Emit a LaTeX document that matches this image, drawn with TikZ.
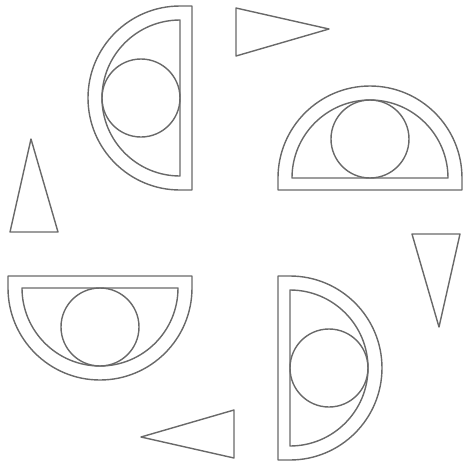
\documentclass[tikz,border=0pt]{standalone}
\begin{document}
\begin{tikzpicture}[x=0.01cm,y=-0.01cm,
  shape line/.style={draw={rgb,255:red,105;green,105;blue,105},line width=0.4pt,line join=round}]
\useasboundingbox (0,0) rectangle (463,463);
% A: arc facing left
\draw[shape line] (192,6) -- (180,6) arc[start angle=-90,end angle=-270,radius=92] -- (192,190) -- cycle;
\draw[shape line] (180,20) arc[start angle=-90,end angle=-270,radius=78] -- cycle;
\draw[shape line] (141,98) circle[radius=39];
% B: arc facing up
\draw[shape line] (462,190) -- (462,178) arc[start angle=0,end angle=-180,radius=92] -- (278,190) -- cycle;
\draw[shape line] (448,178) arc[start angle=0,end angle=-180,radius=78] -- cycle;
\draw[shape line] (370,139) circle[radius=39];
% C: arc facing down
\draw[shape line] (8,276) -- (8,288) arc[start angle=180,end angle=0,radius=92] -- (192,276) -- cycle;
\draw[shape line] (22,288) arc[start angle=180,end angle=0,radius=78] -- cycle;
\draw[shape line] (100,327) circle[radius=39];
% D: arc facing right
\draw[shape line] (278,460) -- (290,460) arc[start angle=90,end angle=-90,radius=92] -- (278,276) -- cycle;
\draw[shape line] (290,446) arc[start angle=90,end angle=-90,radius=78] -- cycle;
\draw[shape line] (329,368) circle[radius=39];
% triangles
\draw[shape line] (236,8) -- (236,56) -- (329,29) -- cycle;
\draw[shape line] (460,234) -- (412,234) -- (439,327) -- cycle;
\draw[shape line] (234,458) -- (234,410) -- (141,437) -- cycle;
\draw[shape line] (10,232) -- (58,232) -- (31,139) -- cycle;
\end{tikzpicture}
\end{document}
